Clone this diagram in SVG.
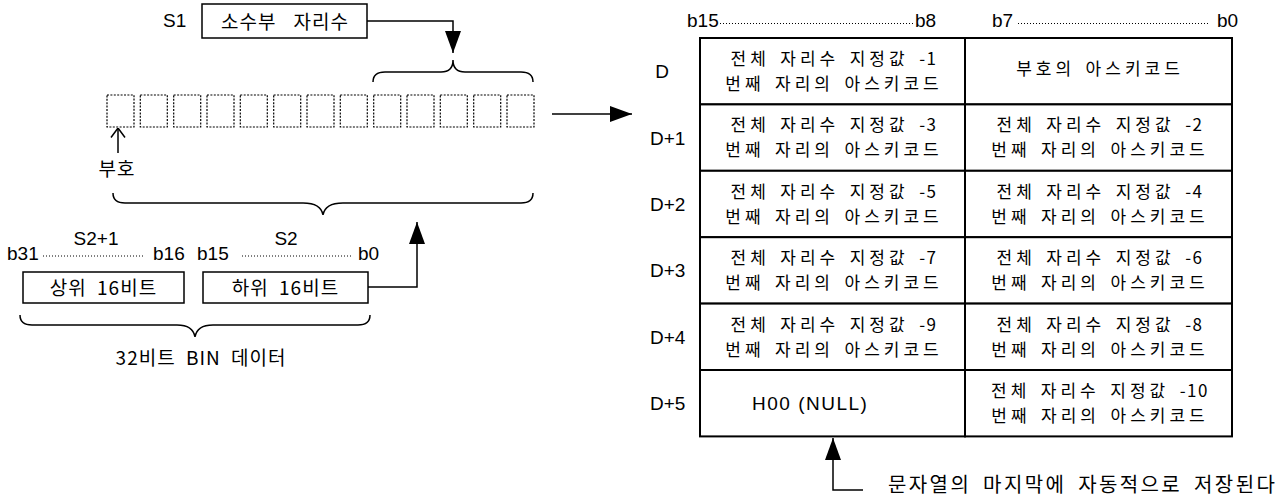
<svg xmlns="http://www.w3.org/2000/svg" width="1287" height="500" viewBox="0 0 1287 500">
<style>
.k{font-family:"Noto Sans CJK KR","Noto Sans",sans-serif;font-size:19px;letter-spacing:1px;word-spacing:5px;fill:#000}
.c{font-size:17px;letter-spacing:4px;word-spacing:2.7px}
.n{letter-spacing:1.5px}
.l{font-family:"Liberation Sans",Arial,sans-serif;font-size:19px;fill:#000}
.m{text-anchor:middle}
.box{fill:#fff;stroke:#000;stroke-width:1.5}
.cell{fill:#fff;stroke:#000;stroke-width:2}
.dig{fill:none;stroke:#000;stroke-width:1.2;stroke-dasharray:2 1.4}
.lead{stroke:#000;stroke-width:1;stroke-dasharray:1 2}
.conn{fill:none;stroke:#000;stroke-width:1.5}
.brace{fill:none;stroke:#000;stroke-width:1.5}
</style>
<defs>
<marker id="ah" viewBox="0 0 22 16" refX="22" refY="8" markerWidth="22" markerHeight="16" markerUnits="userSpaceOnUse" orient="auto">
<path d="M0,0 L22,8 L0,16 z" fill="#000"/>
</marker>
<marker id="av" viewBox="0 0 10 16" refX="9.5" refY="8" markerWidth="10" markerHeight="16" markerUnits="userSpaceOnUse" orient="auto">
<path d="M0,1 L9.5,8 L0,15" fill="none" stroke="#000" stroke-width="1.5"/>
</marker>
</defs>

<g id="s1-label"><text class="l" x="163" y="27">S1</text></g>
<g id="s1-box">
<rect class="box" x="202" y="4" width="165" height="34"/>
<text class="k m" x="285" y="29" style="word-spacing:12px">소수부 자리수</text>
</g>

<g id="brace-decimal"><path class="brace" d="M373,82 Q373,72 385,72 L441,72 Q453,72 453,60 Q453,72 465,72 L521,72 Q533,72 533,82"/></g>

<g id="digit-boxes">
<rect class="dig" x="107" y="95" width="27" height="32"/>
<rect class="dig" x="140.3" y="95" width="27" height="32"/>
<rect class="dig" x="173.7" y="95" width="27" height="32"/>
<rect class="dig" x="207" y="95" width="27" height="32"/>
<rect class="dig" x="240.3" y="95" width="27" height="32"/>
<rect class="dig" x="273.7" y="95" width="27" height="32"/>
<rect class="dig" x="307" y="95" width="27" height="32"/>
<rect class="dig" x="340.3" y="95" width="27" height="32"/>
<rect class="dig" x="373.7" y="95" width="27" height="32"/>
<rect class="dig" x="407" y="95" width="27" height="32"/>
<rect class="dig" x="440.3" y="95" width="27" height="32"/>
<rect class="dig" x="473.7" y="95" width="27" height="32"/>
<rect class="dig" x="507" y="95" width="27" height="32"/>
</g>

<g id="sign-label"><text class="k m" x="117" y="176">부호</text></g>

<g id="brace-all"><path class="brace" d="M113,193 Q113,203 125,203 L303,203 Q321,203 323,215 Q325,203 343,203 L521,203 Q533,203 533,193"/></g>

<g id="s2-header">
<text class="l m" x="96" y="245">S2+1</text>
<text class="l m" x="286" y="245">S2</text>
<text class="l" x="7" y="260">b31</text>
<line class="lead" x1="43" y1="256" x2="143" y2="256"/>
<text class="l" x="153" y="260">b16</text>
<text class="l" x="197" y="260">b15</text>
<line class="lead" x1="242" y1="256" x2="353" y2="256"/>
<text class="l" x="358" y="260">b0</text>
</g>

<g id="upper-box">
<rect class="box" x="23" y="272" width="161" height="31"/>
<text class="k m" x="103.5" y="295">상위 16비트</text>
</g>
<g id="lower-box">
<rect class="box" x="203" y="272" width="165" height="31"/>
<text class="k m" x="285.5" y="295">하위 16비트</text>
</g>

<g id="brace-32"><path class="brace" d="M20,315 Q20,325 32,325 L177,325 Q193,325 195,337 Q197,325 213,325 L358,325 Q370,325 370,315"/></g>
<g id="bin-label"><text class="k m" x="201" y="365">32비트 BIN 데이터</text></g>

<g id="table-header">
<text class="l" x="687" y="27">b15</text>
<line class="lead" x1="720" y1="23.5" x2="913" y2="23.5"/>
<text class="l" x="915" y="27">b8</text>
<text class="l" x="992" y="27">b7</text>
<line class="lead" x1="1018" y1="23.5" x2="1208" y2="23.5"/>
<text class="l" x="1217" y="27">b0</text>
</g>

<g id="row-D">
<text class="l m" x="662" y="78">D</text>
<rect class="cell" x="700" y="38" width="265" height="66.4"/>
<rect class="cell" x="965" y="38" width="267" height="66.4"/>
<text class="k c m" x="834" y="65">전체 자리수 지정값 <tspan class="n">-1</tspan></text>
<text class="k c m" x="834" y="90">번째 자리의 아스키코드</text>
<text class="k c m" x="1100" y="75">부호의 아스키코드</text>
</g>
<g id="row-D1">
<text class="l" x="650" y="144.6">D+1</text>
<rect class="cell" x="700" y="104.4" width="265" height="66.4"/>
<rect class="cell" x="965" y="104.4" width="267" height="66.4"/>
<text class="k c m" x="834" y="131.4">전체 자리수 지정값 <tspan class="n">-3</tspan></text>
<text class="k c m" x="834" y="156.4">번째 자리의 아스키코드</text>
<text class="k c m" x="1100" y="131.4">전체 자리수 지정값 <tspan class="n">-2</tspan></text>
<text class="k c m" x="1100" y="156.4">번째 자리의 아스키코드</text>
</g>
<g id="row-D2">
<text class="l" x="650" y="211">D+2</text>
<rect class="cell" x="700" y="170.8" width="265" height="66.4"/>
<rect class="cell" x="965" y="170.8" width="267" height="66.4"/>
<text class="k c m" x="834" y="197.8">전체 자리수 지정값 <tspan class="n">-5</tspan></text>
<text class="k c m" x="834" y="222.8">번째 자리의 아스키코드</text>
<text class="k c m" x="1100" y="197.8">전체 자리수 지정값 <tspan class="n">-4</tspan></text>
<text class="k c m" x="1100" y="222.8">번째 자리의 아스키코드</text>
</g>
<g id="row-D3">
<text class="l" x="650" y="277.4">D+3</text>
<rect class="cell" x="700" y="237.2" width="265" height="66.4"/>
<rect class="cell" x="965" y="237.2" width="267" height="66.4"/>
<text class="k c m" x="834" y="264.2">전체 자리수 지정값 <tspan class="n">-7</tspan></text>
<text class="k c m" x="834" y="289.2">번째 자리의 아스키코드</text>
<text class="k c m" x="1100" y="264.2">전체 자리수 지정값 <tspan class="n">-6</tspan></text>
<text class="k c m" x="1100" y="289.2">번째 자리의 아스키코드</text>
</g>
<g id="row-D4">
<text class="l" x="650" y="343.8">D+4</text>
<rect class="cell" x="700" y="303.6" width="265" height="66.4"/>
<rect class="cell" x="965" y="303.6" width="267" height="66.4"/>
<text class="k c m" x="834" y="330.6">전체 자리수 지정값 <tspan class="n">-9</tspan></text>
<text class="k c m" x="834" y="355.6">번째 자리의 아스키코드</text>
<text class="k c m" x="1100" y="330.6">전체 자리수 지정값 <tspan class="n">-8</tspan></text>
<text class="k c m" x="1100" y="355.6">번째 자리의 아스키코드</text>
</g>
<g id="row-D5">
<text class="l" x="650" y="410.2">D+5</text>
<rect class="cell" x="700" y="370" width="265" height="66.4"/>
<rect class="cell" x="965" y="370" width="267" height="66.4"/>
<text class="l" x="752" y="410" style="letter-spacing:1.5px">H00 (NULL)</text>
<text class="k c m" x="1100" y="397">전체 자리수 지정값 <tspan class="n">-10</tspan></text>
<text class="k c m" x="1100" y="422">번째 자리의 아스키코드</text>
</g>

<g id="null-note"><text class="k" x="888" y="492" style="font-size:20px;letter-spacing:2.4px;word-spacing:5px">문자열의 마지막에 자동적으로 저장된다</text></g>

<g id="connectors">
<polyline class="conn" points="367,21 453,21 453,53" marker-end="url(#ah)"/>
<line class="conn" x1="552" y1="114" x2="632" y2="114" marker-end="url(#ah)"/>
<polyline class="conn" points="368,287 417,287 417,222" marker-end="url(#ah)"/>
<polyline class="conn" points="863,490 833,490 833,438" marker-end="url(#ah)"/>
<line class="conn" x1="118" y1="153" x2="118" y2="128" marker-end="url(#av)"/>
</g>
</svg>
